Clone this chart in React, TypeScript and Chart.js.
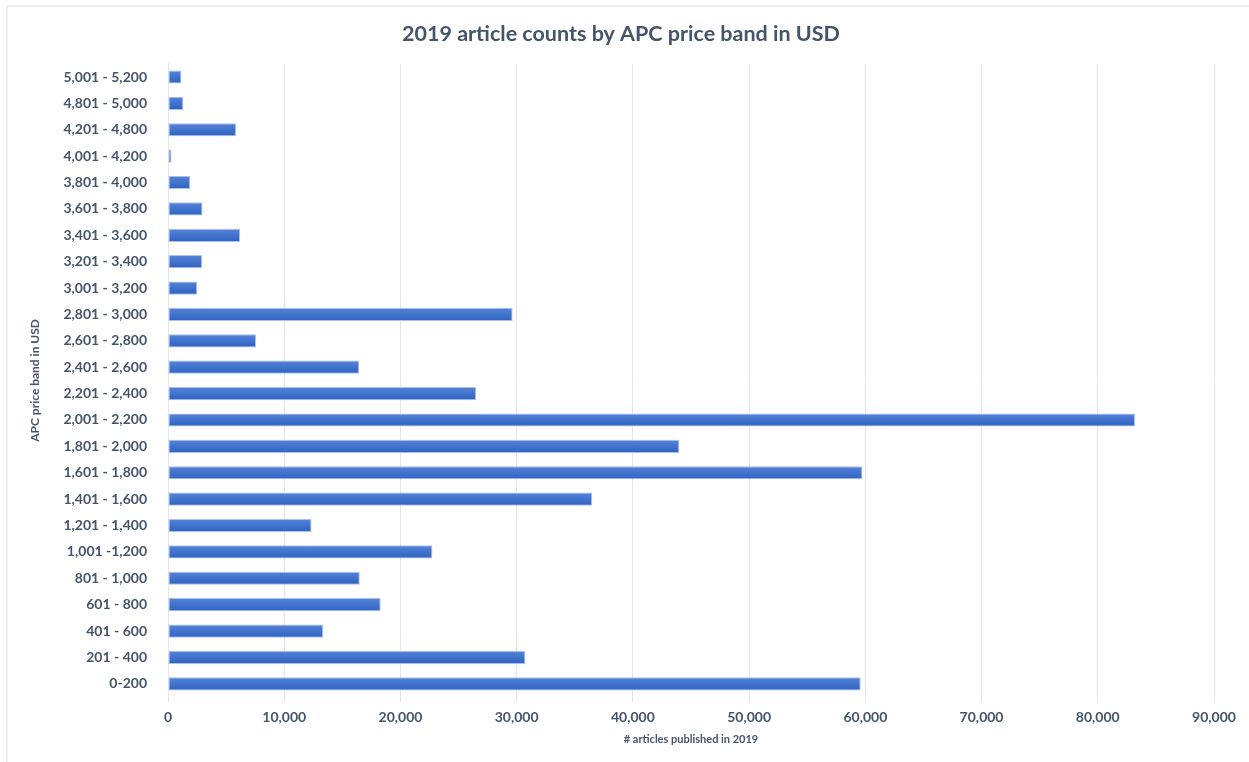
import React, { useEffect, useRef } from "react";
import { Chart, registerables } from "chart.js";

Chart.register(...registerables);

const categories: string[] = [
  "5,001 - 5,200",
  "4,801 - 5,000",
  "4,201 - 4,800",
  "4,001 - 4,200",
  "3,801 - 4,000",
  "3,601 - 3,800",
  "3,401 - 3,600",
  "3,201 - 3,400",
  "3,001 - 3,200",
  "2,801 - 3,000",
  "2,601 - 2,800",
  "2,401 - 2,600",
  "2,201 - 2,400",
  "2,001 - 2,200",
  "1,801 - 2,000",
  "1,601 - 1,800",
  "1,401 - 1,600",
  "1,201 - 1,400",
  "1,001 -1,200",
  "801 - 1,000",
  "601 - 800",
  "401 - 600",
  "201 - 400",
  "0-200",
];

const articleCounts: number[] = [
  1150, 1320, 5850, 300, 1900, 2970, 6200, 2930, 2520, 29650, 7580, 16450,
  26500, 83200, 44000, 59750, 36500, 12350, 22750, 16500, 18300, 13350, 30750,
  59600,
];

const xTicks: number[] = [0, 10000, 20000, 30000, 40000, 50000, 60000, 70000, 80000, 90000];

const titleText = "2019 article counts by APC price band in USD";
const xTitle = "# articles published in 2019";
const yTitle = "APC price band in USD";

const FONT = "Lato, 'Open Sans', sans-serif";
const TEXT = "#44546a";

export default function App() {
  const ref = useRef<HTMLCanvasElement | null>(null);

  useEffect(() => {
    if (!ref.current) return;
    const chart = new Chart(ref.current, {
      type: "bar",
      data: {
        labels: categories,
        datasets: [
          {
            data: articleCounts,
            backgroundColor: (ctx: any) => {
              const c = ctx.chart;
              const ys = c.scales?.y;
              if (!ys || ctx.dataIndex === undefined) return "#3b6dcc";
              const yc = ys.getPixelForValue(ctx.dataIndex);
              if (!Number.isFinite(yc)) return "#3b6dcc";
              const g = c.ctx.createLinearGradient(0, yc - 7, 0, yc + 7);
              g.addColorStop(0, "#5685d9");
              g.addColorStop(1, "#2d61c0");
              return g;
            },
            borderColor: "#a9c0ea",
            borderWidth: 1,
            borderSkipped: false,
            barPercentage: 0.5,
            categoryPercentage: 1,
          },
        ],
      },
      options: {
        indexAxis: "y",
        animation: false,
        responsive: false,
        maintainAspectRatio: false,
        layout: { padding: { left: 28, right: 35, top: 0, bottom: 13 } },
        plugins: {
          legend: { display: false },
          tooltip: { enabled: false },
          title: {
            display: true,
            text: titleText,
            color: TEXT,
            font: { family: FONT, size: 21.5, weight: "bold" },
            padding: { top: 21, bottom: 17 },
          },
        },
        scales: {
          x: {
            min: 0,
            max: 90000,
            afterBuildTicks: (s: any) => {
              s.ticks = xTicks.map((v) => ({ value: v }));
            },
            grid: { color: "#e4e6ec", lineWidth: 1, tickLength: 5, drawTicks: true },
            border: { display: false },
            ticks: {
              color: TEXT,
              padding: 7,
              font: { family: FONT, size: 14, weight: "bold" },
              callback: (v: any) => Number(v).toLocaleString("en-US"),
            },
            title: {
              display: true,
              text: xTitle,
              color: TEXT,
              font: { family: FONT, size: 11, weight: "bold" },
              padding: { top: 0, bottom: 3 },
            },
          },
          y: {
            afterFit: (s: any) => {
              s.width = 140;
            },
            grid: { display: false, drawTicks: false },
            border: { display: true, color: "#e4e6ec", width: 1 },
            ticks: {
              color: TEXT,
              padding: 21,
              font: { family: FONT, size: 14, weight: "bold" },
            },
            title: {
              display: true,
              text: yTitle,
              color: TEXT,
              font: { family: FONT, size: 12, weight: "bold" },
              padding: 0,
            },
          },
        },
      },
    });
    return () => chart.destroy();
  }, []);

  return (
    <div style={{ position: "fixed", left: 0, top: 0, width: 1249, height: 762, background: "#fff" }}>
      <div
        style={{
          position: "absolute",
          left: 6,
          top: 5,
          right: 0,
          bottom: 0,
          borderTop: "2px solid #eeeef3",
          borderLeft: "2px solid #eeeef3",
        }}
      />
      <canvas ref={ref} width={1249} height={762} style={{ position: "absolute", left: 0, top: 0 }} />
    </div>
  );
}
